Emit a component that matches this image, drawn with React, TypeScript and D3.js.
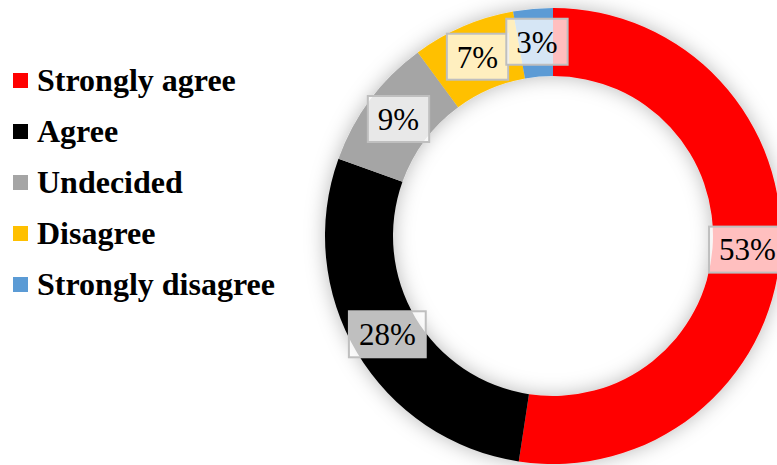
import React, { useEffect, useRef } from "react";
import * as d3 from "d3";

const categories = ["Strongly agree", "Agree", "Undecided", "Disagree", "Strongly disagree"];
const values = [52.4, 28.1, 9.4, 7.3, 2.8];
const labels = ["53%", "28%", "9%", "7%", "3%"];
const colors = ["#FF0000", "#000000", "#A5A5A5", "#FFC000", "#5B9BD5"];

export default function App() {
  const ref = useRef<SVGSVGElement | null>(null);
  useEffect(() => {
    const svg = d3.select(ref.current);
    svg.selectAll("*").remove();
    const W = 777, H = 465;
    const cx = 553, cy = 236, R = 228, r = 160;

    const defs = svg.append("defs");
    const f = defs.append("filter").attr("id", "glow").attr("x", "-20%").attr("y", "-20%").attr("width", "140%").attr("height", "140%");
    f.append("feGaussianBlur").attr("in", "SourceAlpha").attr("stdDeviation", 10).attr("result", "b");
    f.append("feFlood").attr("flood-color", "#000").attr("flood-opacity", 0.28);
    f.append("feComposite").attr("in2", "b").attr("operator", "in").attr("result", "s");
    const m = f.append("feMerge");
    m.append("feMergeNode").attr("in", "s");
    m.append("feMergeNode").attr("in", "SourceGraphic");

    svg.append("rect").attr("width", W).attr("height", H).attr("fill", "#fff");

    const pie = d3.pie<number>().sort(null).value((d) => d);
    const arcs = pie(values);
    const arc = d3.arc<d3.PieArcDatum<number>>().innerRadius(r).outerRadius(R);
    const g = svg.append("g").attr("transform", `translate(${cx},${cy})`).attr("filter", "url(#glow)");
    g.selectAll("path").data(arcs).enter().append("path")
      .attr("d", arc as any)
      .attr("fill", (_d, i) => colors[i]);

    const lblArc = d3.arc<d3.PieArcDatum<number>>().innerRadius((r + R) / 2).outerRadius((r + R) / 2);
    const lg = svg.append("g").attr("transform", `translate(${cx},${cy})`);
    arcs.forEach((a, i) => {
      const [x, y] = lblArc.centroid(a);
      const grp = lg.append("g").attr("transform", `translate(${x + 1},${y - 1})`);
      const rect = grp.append("rect");
      const t = grp.append("text")
        .attr("text-anchor", "middle")
        .attr("dy", "0.35em")
        .attr("font-family", "'Liberation Serif', 'Times New Roman', serif")
        .attr("font-size", 31)
        .attr("fill", "#000")
        .text(labels[i]);
      const w = (t.node() as SVGTextElement).getComputedTextLength();
      const bw = w + 20, bh = 46;
      rect.attr("x", -bw / 2).attr("y", -bh / 2).attr("width", bw).attr("height", bh)
        .attr("fill", "rgba(255,255,255,0.75)")
        .attr("stroke", "#BFBFBF").attr("stroke-width", 2);
    });

    const leg = svg.append("g");
    categories.forEach((c, i) => {
      const y = 80 + i * 51;
      leg.append("rect").attr("x", 13).attr("y", y - 7).attr("width", 15).attr("height", 15).attr("fill", colors[i]);
      leg.append("text").attr("x", 37).attr("y", y).attr("dy", "0.35em")
        .attr("font-family", "'Liberation Serif', 'Times New Roman', serif")
        .attr("font-weight", "bold").attr("font-size", 32).attr("fill", "#000")
        .text(c);
    });
  }, []);
  return (
    <svg ref={ref} width={777} height={465} style={{ position: "absolute", left: 0, top: 0, display: "block" }} />
  );
}
